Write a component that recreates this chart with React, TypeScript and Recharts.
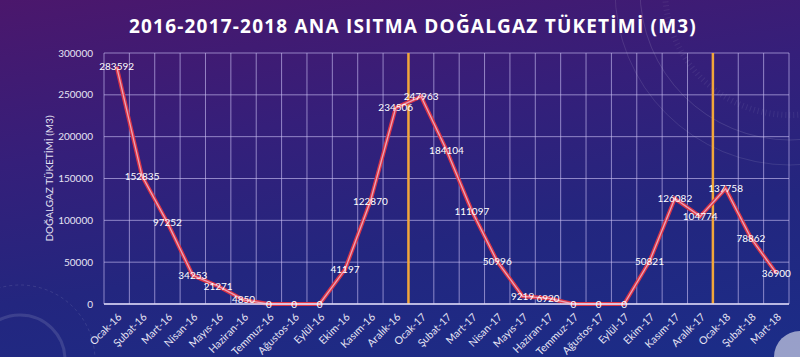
// Ana ısıtma doğalgaz tüketimi 2016-2018 - monthly line chart with year separators

import {
  ComposedChart,
  Line,
  XAxis,
  YAxis,
  CartesianGrid,
  ReferenceLine,
  LabelList
} from 'recharts';

const MONTHS = [
  'Ocak-16', 'Şubat-16', 'Mart-16', 'Nisan-16', 'Mayıs-16', 'Haziran-16',
  'Temmuz-16', 'Ağustos-16', 'Eylül-16', 'Ekim-16', 'Kasım-16', 'Aralık-16',
  'Ocak-17', 'Şubat-17', 'Mart-17', 'Nisan-17', 'Mayıs-17', 'Haziran-17',
  'Temmuz-17', 'Ağustos-17', 'Eylül-17', 'Ekim-17', 'Kasım-17', 'Aralık-17',
  'Ocak-18', 'Şubat-18', 'Mart-18'
];

const CONSUMPTION = [
  283592, 152835, 97252, 34253, 21271, 4850,
  0, 0, 0, 41197, 122870, 234506,
  247963, 184104, 111097, 50996, 9219, 6920,
  0, 0, 0, 50821, 126082, 104774,
  137758, 78862, 36900
];

const Y_TICKS = [0, 50000, 100000, 150000, 200000, 250000, 300000];
const YEAR_STARTS = ['Ocak-17', 'Ocak-18'];

const TITLE = '2016-2017-2018 ANA ISITMA DOĞALGAZ TÜKETİMİ (M3)';
const Y_LABEL = 'DOĞALGAZ TÜKETİMİ (M3)';

const data = MONTHS.map((month, i) => ({ month, value: CONSUMPTION[i] }));

const FONT = 'Lato, "Open Sans", sans-serif';
const GRID = 'rgba(205, 196, 245, 0.62)';

function MonthTick({ x, y, payload }: any) {
  return (
    <text
      x={x + 3}
      y={y + 3}
      dy="0.35em"
      textAnchor="end"
      transform={`rotate(-45, ${x + 3}, ${y + 3})`}
      fill="#e6e4f4"
      fontSize={10.5}
      fontFamily={FONT}
    >
      {payload.value}
    </text>
  );
}

export default function App() {
  return (
    <div
      style={{
        position: 'fixed',
        left: 0,
        top: 0,
        width: 800,
        height: 357,
        overflow: 'hidden',
        background: 'linear-gradient(172deg, #4b176c 0%, #351f7a 35%, #23267f 65%, #1b2d88 100%)',
        fontFamily: FONT
      }}
    >
      {/* faint decorative arcs */}
      <svg width={800} height={357} style={{ position: 'absolute', left: 0, top: 0 }}>
        <circle cx={790} cy={-10} r={150} fill="none" stroke="rgba(255,255,255,0.12)" strokeWidth={1} />
        <circle cx={790} cy={-10} r={175} fill="none" stroke="rgba(255,255,255,0.10)" strokeWidth={1} />
        <circle cx={790} cy={-10} r={125} fill="none" stroke="rgba(255,255,255,0.07)" strokeWidth={6} strokeDasharray="1 3" />
        <circle cx={20} cy={360} r={45} fill="none" stroke="rgba(255,255,255,0.12)" strokeWidth={3} />
        <circle cx={20} cy={360} r={75} fill="none" stroke="rgba(255,255,255,0.10)" strokeWidth={1} strokeDasharray="3 3" />
        <circle cx={800} cy={357} r={26} fill="rgba(255,255,255,0.55)" />
      </svg>

      <div
        style={{
          position: 'absolute',
          left: 113,
          top: 14,
          width: 600,
          textAlign: 'center',
          color: '#ffffff',
          fontFamily: '"Open Sans", sans-serif',
          fontWeight: 700,
          fontSize: 19,
          letterSpacing: 1.2,
          lineHeight: '24px'
        }}
      >
        {TITLE}
      </div>

      <div style={{ position: 'absolute', left: 0, top: 0 }}>
        <ComposedChart
          width={800}
          height={357}
          data={data}
          margin={{ top: 53, right: 11, left: 0, bottom: 0 }}
        >
          <CartesianGrid
            stroke={GRID}
            strokeWidth={1}
            verticalCoordinatesGenerator={({ offset }: any) =>
              MONTHS.map((_, i) => offset.left + (i * offset.width) / MONTHS.length)
                .concat(offset.left + offset.width)
            }
          />
          <XAxis
            dataKey="month"
            scale="band"
            height={53}
            interval={0}
            tickLine={false}
            axisLine={{ stroke: '#dcd8f6', strokeWidth: 1.5 }}
            tick={<MonthTick />}
          />
          <YAxis
            width={104}
            domain={[0, 300000]}
            ticks={Y_TICKS}
            interval={0}
            tickLine={false}
            axisLine={false}
            tickMargin={5}
            tick={{ fill: '#e6e4f4', fontSize: 10, fontFamily: FONT }}
            label={{
              value: Y_LABEL,
              angle: -90,
              position: 'insideLeft',
              offset: 49,
              style: { textAnchor: 'middle', fill: '#e6e4f4', fontSize: 10, fontFamily: FONT }
            }}
          />
          {YEAR_STARTS.map(m => (
            <ReferenceLine key={m} x={m} position="start" stroke="#f2a63a" strokeWidth={2.5} />
          ))}
          <Line
            type="linear"
            dataKey="value"
            stroke="#dc3446"
            strokeWidth={4}
            dot={false}
            activeDot={false}
            isAnimationActive={false}
          />
          <Line
            type="linear"
            dataKey="value"
            stroke="#e9a4b8"
            strokeWidth={1.3}
            dot={false}
            activeDot={false}
            isAnimationActive={false}
          >
            <LabelList
              dataKey="value"
              position="center"
              fill="#ffffff"
              fontSize={10}
              fontFamily={FONT}
            />
          </Line>
        </ComposedChart>
      </div>
    </div>
  );
}
